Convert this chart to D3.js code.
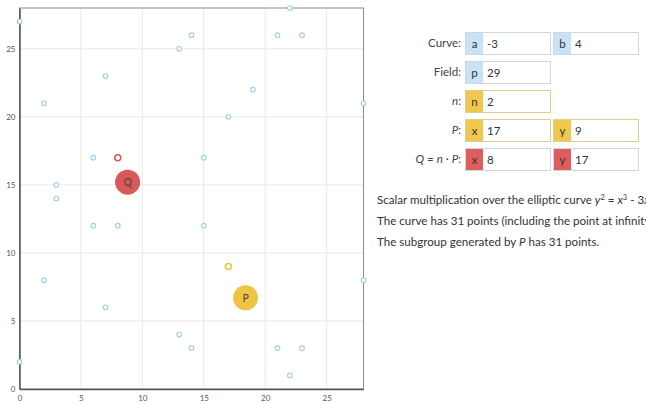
<!DOCTYPE html>
<html>
<head>
<meta charset="utf-8">
<script src="https://cdn.jsdelivr.net/npm/d3@7"></script>
<style>
  body { margin: 0; background: #fff; }
  svg { display: block; font-family: Lato, "Open Sans", sans-serif; }
</style>
</head>
<body>
<div id="graph-container"></div>
<script>
const width = 646, height = 405;

// points on y^2 = x^3 - 3x + 4 over F29
const pointX = [0, 0, 2, 2, 3, 3, 6, 6, 7, 7, 8, 13, 13, 14, 14, 15, 15, 17, 19, 19, 21, 21, 22, 22, 23, 23, 28, 28];
const pointY = [27, 2, 21, 8, 15, 14, 17, 12, 23, 6, 12, 25, 4, 26, 3, 17, 12, 20, 22, 7, 26, 3, 28, 1, 26, 3, 21, 8];

const pPoint = [17, 9];
const qPoint = [8, 17];
const pLabel = [18.4, 6.7];
const qLabel = [8.8, 15.2];

const xTicks = [0, 5, 10, 15, 20, 25];
const yTicks = [0, 5, 10, 15, 20, 25];

const rowLabels = ["Curve:", "Field:", "n:", "P:", "Q = n · P:"];
const fields = [
  [{tag: "a", value: "-3", kind: "curve"}, {tag: "b", value: "4", kind: "curve"}],
  [{tag: "p", value: "29", kind: "curve"}],
  [{tag: "n", value: "2", kind: "p"}],
  [{tag: "x", value: "17", kind: "p"}, {tag: "y", value: "9", kind: "p"}],
  [{tag: "x", value: "8", kind: "q"}, {tag: "y", value: "17", kind: "q"}]
];
const tagColor = {curve: "#c9e2f6", p: "#f0c850", q: "#e05d5d"};

const x = d3.scaleLinear().domain([0, 28]).range([19.5, 363.5]);
const y = d3.scaleLinear().domain([0, 28]).range([389, 8]);

const svg = d3.create("svg")
  .attr("width", width)
  .attr("height", height)
  .attr("viewBox", [0, 0, width, height]);

// grid
svg.append("g")
  .selectAll("line")
  .data(xTicks.slice(1))
  .join("line")
  .attr("x1", d => x(d)).attr("x2", d => x(d))
  .attr("y1", y(28)).attr("y2", y(0))
  .attr("stroke", "#e8e8e8");
svg.append("g")
  .selectAll("line")
  .data(yTicks.slice(1))
  .join("line")
  .attr("y1", d => y(d)).attr("y2", d => y(d))
  .attr("x1", x(0)).attr("x2", x(28))
  .attr("stroke", "#e8e8e8");

// frame
svg.append("rect")
  .attr("x", x(0)).attr("y", y(28))
  .attr("width", x(28) - x(0)).attr("height", y(0) - y(28))
  .attr("fill", "none")
  .attr("stroke", "#8a8a8a");

const gx = svg.append("g")
  .attr("transform", `translate(0,${y(0)})`)
  .call(d3.axisBottom(x).tickValues(xTicks).tickSize(0).tickPadding(6));
const gy = svg.append("g")
  .attr("transform", `translate(${x(0)},0)`)
  .call(d3.axisLeft(y).tickValues(yTicks).tickSize(0).tickPadding(4));
[gx, gy].forEach(g => {
  g.select(".domain").attr("stroke", "#555").attr("stroke-width", 1.5);
  g.selectAll("text").attr("fill", "#555").attr("font-size", 8)
    .attr("font-family", "Lato, sans-serif");
});

// curve points
svg.append("g")
  .selectAll("circle")
  .data(d3.zip(pointX, pointY))
  .join("circle")
  .attr("cx", d => x(d[0]))
  .attr("cy", d => y(d[1]))
  .attr("r", 2.3)
  .attr("fill", "#fff")
  .attr("stroke", "#a3cdef")
  .attr("stroke-width", 1.1);

// P and Q
const marks = [
  {pt: pPoint, lab: pLabel, name: "P", color: "#efc443"},
  {pt: qPoint, lab: qLabel, name: "Q", color: "#d95858"}
];
marks.forEach(m => {
  svg.append("circle")
    .attr("cx", x(m.pt[0])).attr("cy", y(m.pt[1]))
    .attr("r", 3)
    .attr("fill", "#fff")
    .attr("stroke", m.color)
    .attr("stroke-width", 1.6);
  svg.append("circle")
    .attr("cx", x(m.lab[0])).attr("cy", y(m.lab[1]))
    .attr("r", 12.5)
    .attr("fill", m.color);
  svg.append("text")
    .attr("x", x(m.lab[0])).attr("y", y(m.lab[1]))
    .attr("dy", "0.35em")
    .attr("text-anchor", "middle")
    .attr("font-size", 10.5)
    .attr("fill", "#444")
    .text(m.name);
});

// controls
const panel = svg.append("g").attr("font-size", 11.5);
rowLabels.forEach((lab, i) => {
  const top = 32 + i * 29;
  const t = panel.append("text")
    .attr("x", 461).attr("y", top + 11)
    .attr("dy", "0.35em")
    .attr("text-anchor", "end")
    .attr("fill", "#444");
  if (i === 2) t.append("tspan").attr("font-style", "italic").text("n");
  else if (i === 3) t.append("tspan").attr("font-style", "italic").text("P");
  if (i === 4) {
    t.append("tspan").attr("font-style", "italic").text("Q");
    t.append("tspan").text(" = ");
    t.append("tspan").attr("font-style", "italic").text("n");
    t.append("tspan").text(" · ");
    t.append("tspan").attr("font-style", "italic").text("P");
    t.append("tspan").text(":");
  } else if (i >= 2) t.append("tspan").text(":");
  else t.text(lab);

  fields[i].forEach((f, j) => {
    const left = 465 + j * 88;
    const g = panel.append("g").attr("transform", `translate(${left},${top})`);
    g.append("rect")
      .attr("x", 0.5).attr("y", 0.5)
      .attr("width", 85).attr("height", 22)
      .attr("fill", "#fff")
      .attr("stroke", f.kind === "p" ? "#e3cd8c" : "#cbd7e3");
    g.append("rect")
      .attr("x", 1).attr("y", 1)
      .attr("width", 17).attr("height", 21)
      .attr("fill", tagColor[f.kind]);
    g.append("text")
      .attr("x", 9.5).attr("y", 11.5).attr("dy", "0.35em")
      .attr("text-anchor", "middle")
      .attr("fill", "#333")
      .text(f.tag);
    g.append("text")
      .attr("x", 22).attr("y", 11.5).attr("dy", "0.35em")
      .attr("fill", "#333")
      .text(f.value);
  });
});

// description
const desc = svg.append("g").attr("font-size", 11.6).attr("fill", "#333");
const l1 = desc.append("text").attr("x", 377).attr("y", 203.5);
l1.append("tspan").text("Scalar multiplication over the elliptic curve ");
l1.append("tspan").attr("font-style", "italic").text("y");
l1.append("tspan").attr("font-size", 7.5).attr("dy", -4).text("2");
l1.append("tspan").attr("dy", 4).text(" = ");
l1.append("tspan").attr("font-style", "italic").text("x");
l1.append("tspan").attr("font-size", 7.5).attr("dy", -4).text("3");
l1.append("tspan").attr("dy", 4).text(" - 3");
l1.append("tspan").attr("font-style", "italic").text("x");
l1.append("tspan").text(" + 4 over 𝔽29.");
desc.append("text").attr("x", 377).attr("y", 225)
  .text("The curve has 31 points (including the point at infinity).");
const l3 = desc.append("text").attr("x", 377).attr("y", 245.5);
l3.append("tspan").text("The subgroup generated by ");
l3.append("tspan").attr("font-style", "italic").text("P");
l3.append("tspan").text(" has 31 points.");

document.getElementById("graph-container").appendChild(svg.node());
</script>
</body>
</html>
